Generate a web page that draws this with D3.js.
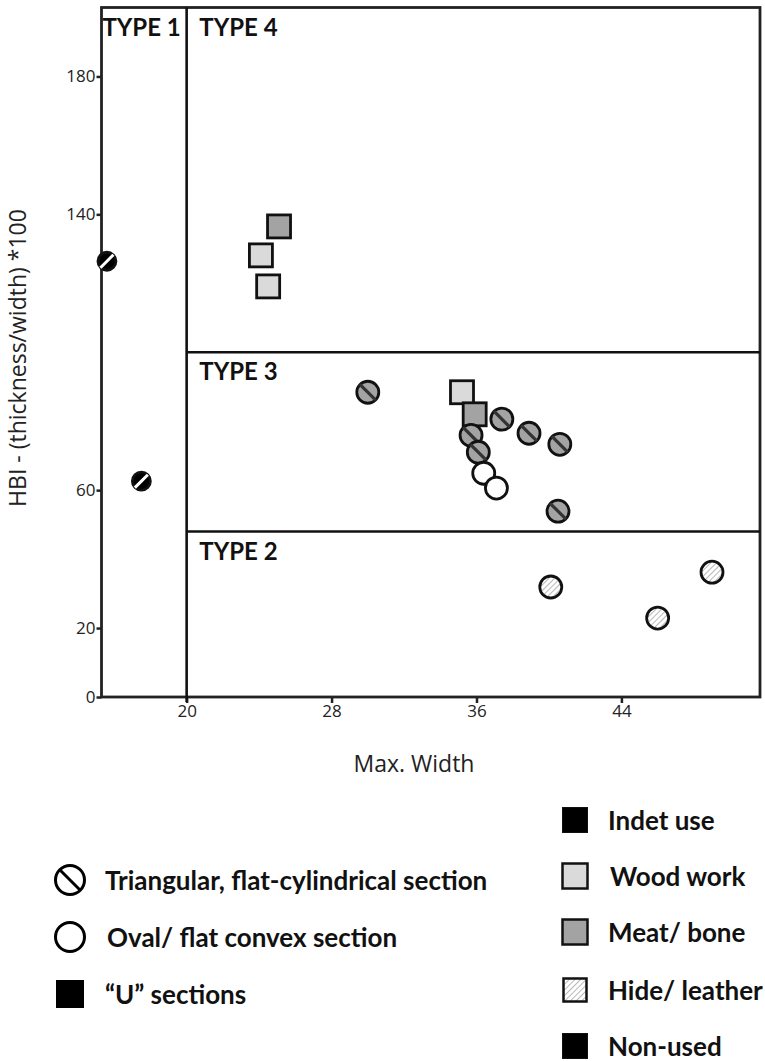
<!DOCTYPE html>
<html>
<head>
<meta charset="utf-8">
<script src="https://cdn.jsdelivr.net/npm/d3@7"></script>
<style>
  body { margin: 0; background: #fff; }
  svg { display: block; }
  .tick text { font-family: "Open Sans", sans-serif; font-size: 17px; fill: #222; }
</style>
</head>
<body>
<svg id="chart" width="765" height="1061"></svg>
<script>
"use strict";

// measured points: max width, HBI, section shape, use
const widths   = [15.6, 17.5, 25.1, 24.1, 24.5, 30.0, 35.2, 35.9, 37.4, 38.9, 40.6, 35.7, 36.1, 36.4, 37.1, 40.5, 40.1, 46.0, 49.0];
const hbi      = [126.4, 62.6, 136.5, 128.1, 119.1, 88.4, 88.4, 82.0, 80.6, 76.5, 73.3, 75.9, 71.0, 64.9, 60.6, 53.9, 31.9, 22.9, 36.2];
const sections = ["tri", "tri", "U", "U", "U", "tri", "U", "U", "tri", "tri", "tri", "tri", "tri", "oval", "oval", "tri", "oval", "oval", "oval"];
const uses     = ["non", "non", "meat", "wood", "wood", "meat", "wood", "meat", "meat", "meat", "meat", "meat", "meat", "none", "none", "meat", "hide", "hide", "hide"];

const yTicks = [0, 20, 60, 140, 180];
const xTicks = [20, 28, 36, 44];

// type boundaries
const typeSplitX = 20;
const typeLinesY = [100, 48];
const typeLabels = [
    {text: "TYPE 1", x: 15.35, y: 200},
    {text: "TYPE 4", x: 20.7, y: 200},
    {text: "TYPE 3", x: 20.7, y: 100},
    {text: "TYPE 2", x: 20.7, y: 48}
];

const shapeLegend = [
    {key: "tri", label: "Triangular, flat-cylindrical section"},
    {key: "oval", label: "Oval/ flat convex section"},
    {key: "U", label: "\u201CU\u201D sections"}
];
const useLegend = [
    {key: "indet", label: "Indet use"},
    {key: "wood", label: "Wood work"},
    {key: "meat", label: "Meat/ bone"},
    {key: "hide", label: "Hide/ leather"},
    {key: "non", label: "Non-used"}
];

const useFill = {
    indet: "#000",
    non: "#000",
    wood: "#dadada",
    meat: "#a3a3a3",
    hide: "url(#hatch)",
    none: "#fff"
};

const svg = d3.select("#chart");
const plot = {left: 101.5, right: 760, top: 7.5, bottom: 697};

const x = d3.scaleLinear().domain([15.3, 51.65]).range([plot.left, plot.right]);
const y = d3.scaleLinear().domain([0, 200]).range([plot.bottom, plot.top]);

const defs = svg.append("defs");
const hatch = defs.append("pattern")
    .attr("id", "hatch")
    .attr("patternUnits", "userSpaceOnUse")
    .attr("width", 4)
    .attr("height", 4)
    .attr("patternTransform", "rotate(45)");
hatch.append("rect").attr("width", 4).attr("height", 4).attr("fill", "#fff");
hatch.append("line")
    .attr("x1", 0).attr("y1", 0).attr("x2", 0).attr("y2", 4)
    .attr("stroke", "#9a9a9a").attr("stroke-width", 1.4);

// axes (ticks only, frame drawn below)
const yAxis = svg.append("g")
    .attr("transform", `translate(${plot.left},0)`)
    .call(d3.axisLeft(y).tickValues(yTicks).tickSize(5).tickPadding(1));
const xAxis = svg.append("g")
    .attr("transform", `translate(0,${plot.bottom})`)
    .call(d3.axisBottom(x).tickValues(xTicks).tickSize(6).tickPadding(2));
[yAxis, xAxis].forEach(a => {
    a.select(".domain").remove();
    a.selectAll(".tick line").attr("stroke", "#222").attr("stroke-width", 2.5);
});

// frame and type lines
svg.append("rect")
    .attr("x", plot.left).attr("y", plot.top)
    .attr("width", plot.right - plot.left).attr("height", plot.bottom - plot.top)
    .attr("fill", "none").attr("stroke", "#222").attr("stroke-width", 2.8);
svg.append("line")
    .attr("x1", x(typeSplitX)).attr("x2", x(typeSplitX))
    .attr("y1", plot.top).attr("y2", plot.bottom + 5)
    .attr("stroke", "#111").attr("stroke-width", 2.6);
svg.selectAll("line.type")
    .data(typeLinesY)
    .join("line")
    .attr("class", "type")
    .attr("x1", x(typeSplitX)).attr("x2", plot.right)
    .attr("y1", d => y(d)).attr("y2", d => y(d))
    .attr("stroke", "#111").attr("stroke-width", 2.4);

svg.selectAll("text.type")
    .data(typeLabels)
    .join("text")
    .attr("class", "type")
    .attr("x", d => x(d.x))
    .attr("y", d => y(d.y) + 28)
    .attr("font-family", "Lato, sans-serif")
    .attr("font-weight", "bold")
    .attr("font-size", 24)
    .attr("fill", "#111")
    .text(d => d.text);

// axis titles
svg.append("text")
    .attr("transform", `translate(26,${358}) rotate(-90)`)
    .attr("text-anchor", "middle")
    .attr("font-family", "Open Sans, sans-serif")
    .attr("font-size", 23)
    .attr("fill", "#222")
    .text("HBI - (thickness/width) *100");
svg.append("text")
    .attr("x", 414).attr("y", 772)
    .attr("text-anchor", "middle")
    .attr("font-family", "Open Sans, sans-serif")
    .attr("font-size", 23)
    .attr("fill", "#222")
    .text("Max. Width");

// marker drawing
function drawMarker(g, section, use, r) {
    if (section === "U") {
        g.append("rect")
            .attr("x", -r).attr("y", -r).attr("width", 2 * r).attr("height", 2 * r)
            .attr("fill", useFill[use]).attr("stroke", "#111").attr("stroke-width", 2.8);
        return;
    }
    g.append("circle")
        .attr("r", r)
        .attr("fill", useFill[use])
        .attr("stroke", "#111").attr("stroke-width", 2.8);
    if (section === "tri") {
        const k = r * 0.72;
        const dark = use === "non" || use === "indet";
        g.append("line")
            .attr("x1", dark ? k : -k).attr("y1", -k)
            .attr("x2", dark ? -k : k).attr("y2", k)
            .attr("stroke", dark ? "#fff" : "#333")
            .attr("stroke-width", dark ? 3 : 3.2);
    }
}

const points = widths.map((w, i) => ({w: w, h: hbi[i], section: sections[i], use: uses[i]}));
svg.append("g").selectAll("g")
    .data(points)
    .join("g")
    .attr("transform", d => `translate(${x(d.w)},${y(d.h)})`)
    .each(function (d) {
        const small = d.use === "non";
        drawMarker(d3.select(this), d.section, d.use, d.section === "U" ? 11.5 : (small ? 9 : 11));
    });

// legends
const shapeRows = [880, 937, 994];
const sl = svg.append("g").selectAll("g")
    .data(shapeLegend)
    .join("g")
    .attr("transform", (d, i) => `translate(70,${shapeRows[i]})`);
sl.each(function (d) {
    const g = d3.select(this);
    if (d.key === "U") {
        g.append("rect").attr("x", -14).attr("y", -14).attr("width", 28).attr("height", 28).attr("fill", "#000");
    } else {
        g.append("circle").attr("r", 14.5).attr("fill", "#fff").attr("stroke", "#000").attr("stroke-width", 3);
        if (d.key === "tri") {
            g.append("line").attr("x1", -10.5).attr("y1", -10.5).attr("x2", 10.5).attr("y2", 10.5)
                .attr("stroke", "#000").attr("stroke-width", 3);
        }
    }
});
sl.append("text")
    .attr("x", d => d.key === "oval" ? 37 : 35)
    .attr("y", 10)
    .attr("font-family", "Lato, sans-serif")
    .attr("font-weight", "bold")
    .attr("font-size", 26)
    .attr("fill", "#111")
    .text(d => d.label);

const useRows = [820, 876, 932, 990, 1046];
const ul = svg.append("g").selectAll("g")
    .data(useLegend)
    .join("g")
    .attr("transform", (d, i) => `translate(575,${useRows[i]})`);
ul.append("rect")
    .attr("x", d => d.key === "hide" ? -11.5 : -12.5)
    .attr("y", d => d.key === "hide" ? -11.5 : -12.5)
    .attr("width", d => d.key === "hide" ? 23 : 25)
    .attr("height", d => d.key === "hide" ? 23 : 25)
    .attr("fill", d => useFill[d.key])
    .attr("stroke", "#111")
    .attr("stroke-width", d => d.key === "indet" || d.key === "non" ? 1 : 2.5);
ul.append("text")
    .attr("x", d => d.key === "wood" ? 35 : 33)
    .attr("y", 10)
    .attr("font-family", "Lato, sans-serif")
    .attr("font-weight", "bold")
    .attr("font-size", 26)
    .attr("fill", "#111")
    .text(d => d.label);
</script>
</body>
</html>
